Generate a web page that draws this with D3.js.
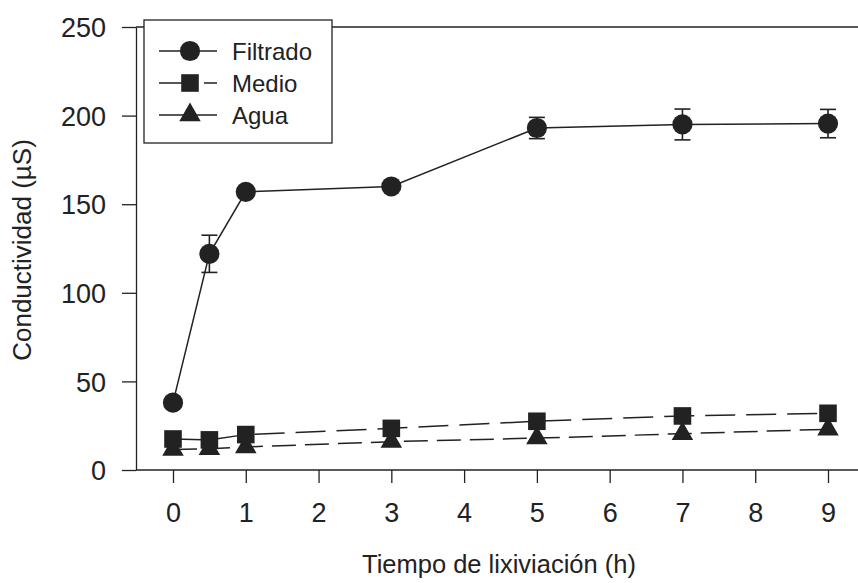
<!DOCTYPE html>
<html>
<head>
<meta charset="utf-8">
<script src="https://cdn.jsdelivr.net/npm/d3@7"></script>
<style>
  body { margin: 0; background: #fff; }
  svg { display: block; font-family: "Liberation Sans", Arial, sans-serif; }
</style>
</head>
<body>
<svg id="chart" width="858" height="583"></svg>
<script>
// data
const tiempo = [0, 0.5, 1, 3, 5, 7, 9];
const filtrado = [38, 122, 157, 160, 193, 195, 195.5];
const filtradoErr = [0, 10.5, 0, 0, 6, 8.7, 8];
const medio = [17.5, 17, 20, 23.5, 27.5, 30.5, 32];
const agua = [11.5, 12, 13, 16, 18, 20.5, 23];
const xTicks = [0, 1, 2, 3, 4, 5, 6, 7, 8, 9];
const yTicks = [0, 50, 100, 150, 200, 250];

const series = [
  { name: "Filtrado", values: filtrado, err: filtradoErr, symbol: d3.symbolCircle, size: 320, dash: null },
  { name: "Medio", values: medio, err: null, symbol: d3.symbolSquare, size: 310, dash: "30,11" },
  { name: "Agua", values: agua, err: null, symbol: d3.symbolTriangle, size: 200, dash: "24,9" }
];

const svg = d3.select("#chart");
const ink = "#222";

const x = d3.scaleLinear().domain([0, 9]).range([173, 828]);
const y = d3.scaleLinear().domain([0, 250]).range([470, 27]);
const x0 = 136;

// axes
const gx = svg.append("g").attr("transform", `translate(0,${y(0)})`)
  .call(d3.axisBottom(x).tickValues(xTicks).tickSize(13).tickPadding(20).tickSizeOuter(0));
gx.select(".domain").attr("d", `M${x0},0H858`);
const gy = svg.append("g").attr("transform", `translate(${x0},0)`)
  .call(d3.axisLeft(y).tickValues(yTicks).tickSize(14).tickPadding(16).tickSizeOuter(0));
[gx, gy].forEach(g => {
  g.selectAll("line, path").attr("stroke", ink).attr("stroke-width", 1.3);
  g.selectAll("text").attr("fill", ink).attr("font-size", 27);
});
gx.selectAll("text").attr("dy", "0.71em");
gy.selectAll("text").attr("dy", "0.36em");

// top frame
svg.append("line").attr("x1", x0).attr("x2", 858).attr("y1", y(250)).attr("y2", y(250))
  .attr("stroke", ink).attr("stroke-width", 1.3);

// axis titles
svg.append("text").attr("x", 499).attr("y", 573).attr("text-anchor", "middle")
  .attr("font-size", 25.5).attr("fill", ink).text("Tiempo de lixiviación (h)");
svg.append("text").attr("transform", "translate(31,250) rotate(-90)").attr("text-anchor", "middle")
  .attr("font-size", 26).attr("fill", ink).text("Conductividad (µS)");

// series
const line = d3.line().x((d, i) => x(tiempo[i])).y(d => y(d));
series.slice().reverse().forEach(s => {
  svg.append("path").attr("d", line(s.values)).attr("fill", "none")
    .attr("stroke", ink).attr("stroke-width", 1.5)
    .attr("stroke-dasharray", s.dash);
});
series.forEach(s => {
  if (s.err) {
    s.values.forEach((v, i) => {
      const e = s.err[i];
      if (!e) return;
      const cx = x(tiempo[i]);
      const g = svg.append("g").attr("stroke", ink).attr("stroke-width", 1.6);
      g.append("line").attr("x1", cx).attr("x2", cx).attr("y1", y(v - e)).attr("y2", y(v + e));
      [v - e, v + e].forEach(b => g.append("line").attr("x1", cx - 8).attr("x2", cx + 8).attr("y1", y(b)).attr("y2", y(b)));
    });
  }
  svg.append("g").selectAll("path").data(s.values).join("path")
    .attr("transform", (d, i) => `translate(${x(tiempo[i])},${y(d)})`)
    .attr("d", d3.symbol(s.symbol, s.size))
    .attr("fill", ink);
});

// legend
const lg = svg.append("g");
lg.append("rect").attr("x", 144).attr("y", 20).attr("width", 188).attr("height", 123)
  .attr("fill", "#fff").attr("stroke", ink).attr("stroke-width", 1.3);
series.forEach((s, i) => {
  const ly = 51 + i * 32;
  lg.append("line").attr("x1", 159).attr("x2", 217).attr("y1", ly).attr("y2", ly)
    .attr("stroke", ink).attr("stroke-width", 1.5)
    .attr("stroke-dasharray", s.name === "Medio" ? "26,19,13" : null);
  lg.append("path").attr("transform", `translate(190,${ly})`)
    .attr("d", d3.symbol(s.symbol, s.size)).attr("fill", ink);
  lg.append("text").attr("x", 232).attr("y", ly).attr("dy", "0.36em")
    .attr("font-size", 24).attr("fill", ink).text(s.name);
});
</script>
</body>
</html>
